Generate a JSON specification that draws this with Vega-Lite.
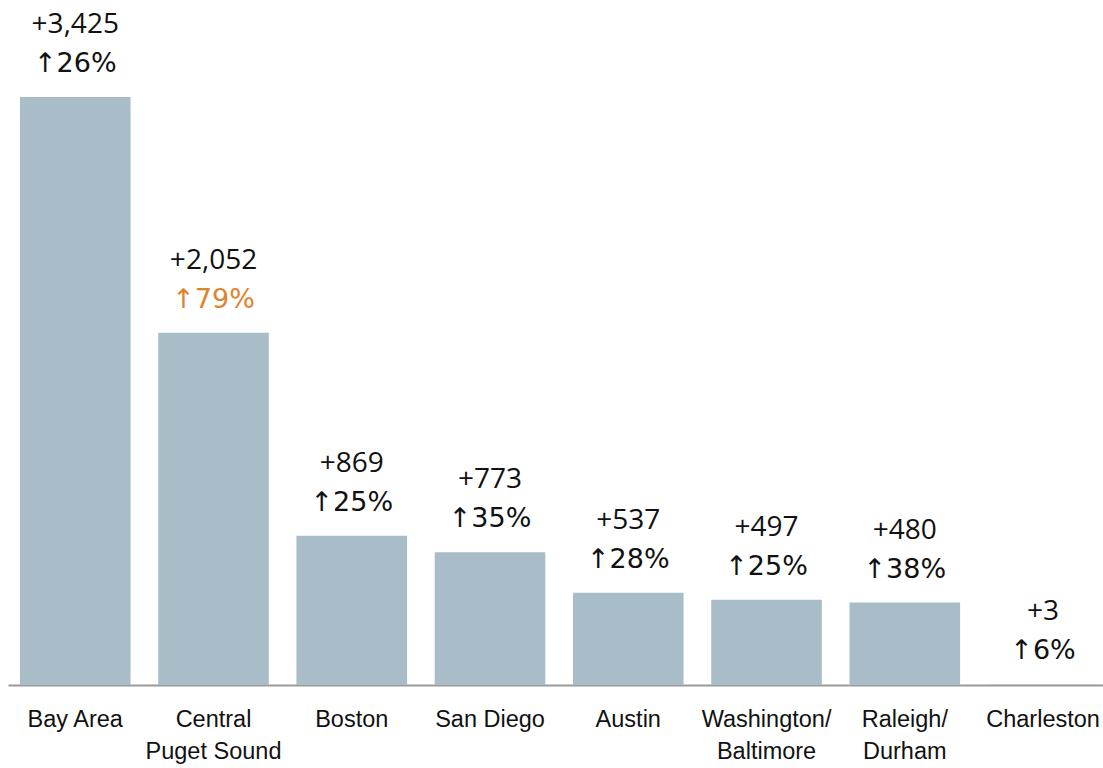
{
  "$schema": "https://vega.github.io/schema/vega-lite/v6.json",
  "autosize": {"type": "none"},
  "width": 1095,
  "height": 685,
  "padding": {"left": 8, "top": 0, "right": 0, "bottom": 83},
  "background": "white",
  "config": {"view": {"stroke": null}},
  "data": {
    "values": [
      {"city": "Bay Area", "change": 3425, "pct": 26},
      {"city": "Central Puget Sound", "change": 2052, "pct": 79},
      {"city": "Boston", "change": 869, "pct": 25},
      {"city": "San Diego", "change": 773, "pct": 35},
      {"city": "Austin", "change": 537, "pct": 28},
      {"city": "Washington/Baltimore", "change": 497, "pct": 25},
      {"city": "Raleigh/Durham", "change": 480, "pct": 38},
      {"city": "Charleston", "change": 3, "pct": 6}
    ]
  },
  "transform": [
    {"calculate": "'↑' + datum.pct + '%'", "as": "pctLabel"}
  ],
  "encoding": {
    "x": {
      "field": "city",
      "type": "nominal",
      "sort": null,
      "scale": {"paddingInner": 0.2, "paddingOuter": 0.06, "align": 0.72},
      "axis": {
        "title": null,
        "labelAngle": 0,
        "ticks": false,
        "domain": true,
        "domainColor": "#9a9a9a",
        "domainWidth": 2,
        "labelFont": "Liberation Sans",
        "labelFontSize": 23.5,
        "labelColor": "#111111",
        "labelPadding": 22,
        "labelLineHeight": 32,
        "labelBaseline": "top",
        "labelLimit": 300,
        "labelExpr": "datum.label == 'Central Puget Sound' ? ['Central', 'Puget Sound'] : datum.label == 'Washington/Baltimore' ? ['Washington/', 'Baltimore'] : datum.label == 'Raleigh/Durham' ? ['Raleigh/', 'Durham'] : datum.label"
      }
    },
    "y": {
      "field": "change",
      "type": "quantitative",
      "scale": {"domain": [0, 3990]},
      "axis": null
    }
  },
  "layer": [
    {"mark": {"type": "bar", "color": "#A8BDC7"}},
    {
      "mark": {"type": "text", "baseline": "alphabetic", "dy": -64, "font": "Open Sans", "fontSize": 28, "color": "#111111"},
      "encoding": {"text": {"field": "change", "type": "quantitative", "format": "+,"}}
    },
    {
      "mark": {"type": "text", "baseline": "alphabetic", "dy": -25, "font": "DejaVu Sans", "fontSize": 27},
      "encoding": {
        "text": {"field": "pctLabel"},
        "color": {"condition": {"test": "datum.city == 'Central Puget Sound'", "value": "#E0842C"}, "value": "#111111"},
        "fontWeight": {"condition": {"test": "datum.city == 'Central Puget Sound'", "value": "bold"}, "value": "normal"}
      }
    }
  ]
}
